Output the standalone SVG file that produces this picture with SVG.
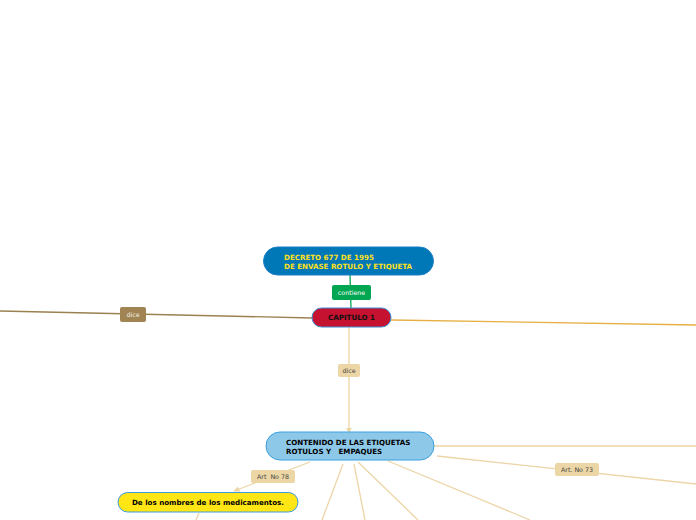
<svg xmlns="http://www.w3.org/2000/svg" width="696" height="520" viewBox="0 0 696 520">
<style>
.t{font-family:"DejaVu Sans",Verdana,sans-serif;font-weight:bold;font-size:7.1px;white-space:pre}
.l{font-family:"DejaVu Sans",Verdana,sans-serif;font-size:6.3px;white-space:pre}
.tan{stroke:#ecd5a6;stroke-width:1.3;fill:none}
</style>
<defs>
<marker id="ah" viewBox="0 0 10 10" refX="9" refY="5" markerWidth="6" markerHeight="6" orient="auto" markerUnits="userSpaceOnUse">
<path d="M0,0 L10,5 L0,10 z" fill="#ecd5a6"/>
</marker>
</defs>
<rect width="696" height="520" fill="#ffffff"/>
<g id="connectors">
<line x1="350" y1="275" x2="351" y2="308" stroke="#00a651" stroke-width="1.3"/>
<line x1="0" y1="311" x2="312" y2="318" stroke="#9b8050" stroke-width="1.3"/>
<line x1="391" y1="320" x2="696" y2="325" stroke="#e6b045" stroke-width="1.3"/>
<line x1="349" y1="327" x2="349" y2="433" class="tan" marker-end="url(#ah)"/>
<line x1="434" y1="446" x2="696" y2="446" class="tan"/>
<line x1="437" y1="456" x2="696" y2="484" class="tan"/>
<line x1="310" y1="462" x2="234" y2="491" class="tan" marker-end="url(#ah)"/>
<line x1="343" y1="464" x2="322" y2="520" class="tan"/>
<line x1="354" y1="464" x2="365" y2="520" class="tan"/>
<line x1="358" y1="462" x2="418" y2="520" class="tan"/>
<line x1="388" y1="461" x2="530" y2="520" class="tan"/>
<line x1="199" y1="513" x2="196" y2="520" class="tan"/>
<g id="lbl-contiene">
<rect x="332" y="285" width="39" height="15" rx="2" fill="#00a651"/>
<text x="351.5" y="295" class="l" fill="#ffffff" text-anchor="middle">contiene</text>
</g>
<g id="lbl-dice-left">
<rect x="120" y="307" width="26" height="15" rx="2" fill="#a08454"/>
<text x="133" y="317" class="l" fill="#f5f0e6" text-anchor="middle">dice</text>
</g>
<g id="lbl-dice-down">
<rect x="338" y="364" width="22" height="13" rx="2" fill="#ecd6a6"/>
<text x="349" y="373" class="l" fill="#444444" text-anchor="middle">dice</text>
</g>
<g id="lbl-art78">
<rect x="251" y="470" width="44" height="13" rx="2" fill="#ecd6a6"/>
<text x="273" y="479" class="l" fill="#444444" text-anchor="middle">Art  No 78</text>
</g>
<g id="lbl-art73">
<rect x="555" y="463" width="44" height="13" rx="2" fill="#ecd6a6"/>
<text x="577" y="472" class="l" fill="#444444" text-anchor="middle">Art. No 73</text>
</g>
</g>
<g id="node-decreto">
<rect x="263.5" y="247" width="170" height="28" rx="14" fill="#0077b6" stroke="#1a7fc8" stroke-width="1"/>
<text class="t" fill="#ffe11a"><tspan x="284" y="260">DECRETO 677 DE 1995</tspan><tspan x="284" y="268.5">DE ENVASE ROTULO Y ETIQUETA</tspan></text>
</g>
<g id="node-capitulo">
<rect x="312" y="308" width="79" height="19" rx="9.5" fill="#c41230" stroke="#3b8fd6" stroke-width="1"/>
<text x="351.5" y="320" class="t" fill="#111111" text-anchor="middle">CAPITULO 1</text>
</g>
<g id="node-contenido">
<rect x="266" y="432" width="168" height="28" rx="14" fill="#8ec8e8" stroke="#3ba0e0" stroke-width="1"/>
<text class="t" fill="#000000"><tspan x="286" y="445">CONTENIDO DE LAS ETIQUETAS</tspan><tspan x="286" y="453.5">ROTULOS Y   EMPAQUES</tspan></text>
</g>
<g id="node-nombres">
<rect x="118" y="492.5" width="180" height="19.5" rx="9.75" fill="#ffe614" stroke="#3b9ae0" stroke-width="1"/>
<text x="208" y="505" class="t" fill="#000000" text-anchor="middle">De los nombres de los medicamentos.</text>
</g>
</svg>
